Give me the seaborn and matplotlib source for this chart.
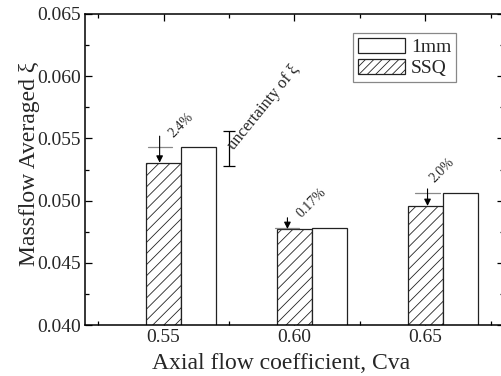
import numpy as np
import pandas as pd
import matplotlib
matplotlib.use("Agg")
import matplotlib.pyplot as plt
from matplotlib.patches import Patch
from matplotlib.ticker import MultipleLocator, FormatStrFormatter
import seaborn as sns

# ---- data ----
cva = [0.55, 0.60, 0.65]
ssq = [0.05305, 0.04772, 0.04957]
mm1 = [0.05433, 0.04777, 0.05059]
pct_labels = ["2.4%", "0.17%", "2.0%"]
unc_x = 0.575
unc_center = 0.05420
unc_err = 0.00140
series_names = ["1mm", "SSQ"]

sns.set_theme(style="ticks")
plt.rcParams["font.family"] = ["Liberation Serif", "DejaVu Serif"]
plt.rcParams["hatch.linewidth"] = 0.6
plt.rcParams["hatch.color"] = "#666666"

W, H = 502, 376
fig = plt.figure(figsize=(W / 100, H / 100), dpi=100)
L, R, T, B = 85, 504, 14, 325
ax = fig.add_axes([L / W, 1 - B / H, (R - L) / W, (B - T) / H])

rel_w = 0.267
bw = rel_w * 0.05

df_ssq = pd.DataFrame({"cva": cva, "val": ssq})
df_mm = pd.DataFrame({"cva": [c + bw for c in cva], "val": mm1})

sns.barplot(data=df_ssq, x="cva", y="val", native_scale=True, width=rel_w,
            color="white", edgecolor="#222222", linewidth=0.9, hatch="///",
            errorbar=None, ax=ax, saturation=1)
sns.barplot(data=df_mm, x="cva", y="val", native_scale=True, width=rel_w,
            color="white", edgecolor="#222222", linewidth=0.9,
            errorbar=None, ax=ax, saturation=1)
for p in ax.patches:
    p.set_facecolor("white")

ax.set_xlim(0.52, 0.68)
ax.set_ylim(0.040, 0.065)
ax.xaxis.set_major_locator(MultipleLocator(0.05))
ax.xaxis.set_minor_locator(MultipleLocator(0.025))
ax.xaxis.set_major_formatter(FormatStrFormatter("%.2f"))
ax.yaxis.set_major_locator(MultipleLocator(0.005))
ax.yaxis.set_minor_locator(MultipleLocator(0.0025))
ax.yaxis.set_major_formatter(FormatStrFormatter("%.3f"))

ax.tick_params(which="both", direction="in", top=True, right=True,
               color="black", width=0.9, labelsize=14, pad=3)
ax.tick_params(which="major", length=5)
ax.tick_params(which="minor", length=3)
for s in ax.spines.values():
    s.set_visible(True)
    s.set_color("black")
    s.set_linewidth(1.1)

ax.set_xlabel("Axial flow coefficient, Cva", fontsize=17)
ax.set_ylabel("Massflow Averaged ξ", fontsize=17)
ax.xaxis.set_label_coords((281 - L) / (R - L), -(369 - B) / (B - T))
ax.xaxis.label.set_va("baseline")
ax.yaxis.set_label_coords((40 - L) / (R - L), (B - 164) / (B - T))

# arrows, reference lines, percentages
arrow_dx = [-0.0015, -0.0027, 0.0008]
arrow_top = [0.00085, 0.00085, 0.00035]
text_dx = [0.0069, 0.0065, 0.0065]
text_dy = [0.00175, 0.00205, 0.00185]
for i, c in enumerate(cva):
    xa = c + arrow_dx[i]
    ax.plot([xa - 0.0046, xa + 0.0046], [mm1[i], mm1[i]], color="#888888", lw=0.9)
    ax.annotate("", xy=(xa, ssq[i]), xytext=(xa, mm1[i] + arrow_top[i]),
                arrowprops=dict(arrowstyle="-|>", color="black", lw=0.8,
                                shrinkA=0, shrinkB=0, mutation_scale=10))
    ax.text(c + text_dx[i], mm1[i] + text_dy[i], pct_labels[i], rotation=45,
            ha="center", va="center", fontsize=10)

# uncertainty bar
ax.errorbar([unc_x], [unc_center], yerr=[unc_err], fmt="none", ecolor="black",
            elinewidth=0.9, capsize=4, capthick=0.9)
ax.text(unc_x + 0.0017, unc_center - 0.00015, "uncertainty of ξ", rotation=51,
        rotation_mode="anchor", ha="left", va="baseline", fontsize=12)

handles = [Patch(facecolor="white", edgecolor="#222222", linewidth=0.9),
           Patch(facecolor="white", edgecolor="#222222", linewidth=0.9, hatch="////")]
leg = ax.legend(handles, series_names, loc="upper right",
                bbox_to_anchor=((456 - L) / (R - L), (B - 33) / (B - T)),
                fontsize=14, handlelength=2.4, handleheight=0.8,
                frameon=True, fancybox=False, framealpha=1,
                borderpad=0.25, labelspacing=0.15, handletextpad=0.3,
                borderaxespad=0)
leg.get_frame().set_edgecolor("#888888")
leg.get_frame().set_linewidth(0.9)

fig.savefig("out.png", dpi=100)
